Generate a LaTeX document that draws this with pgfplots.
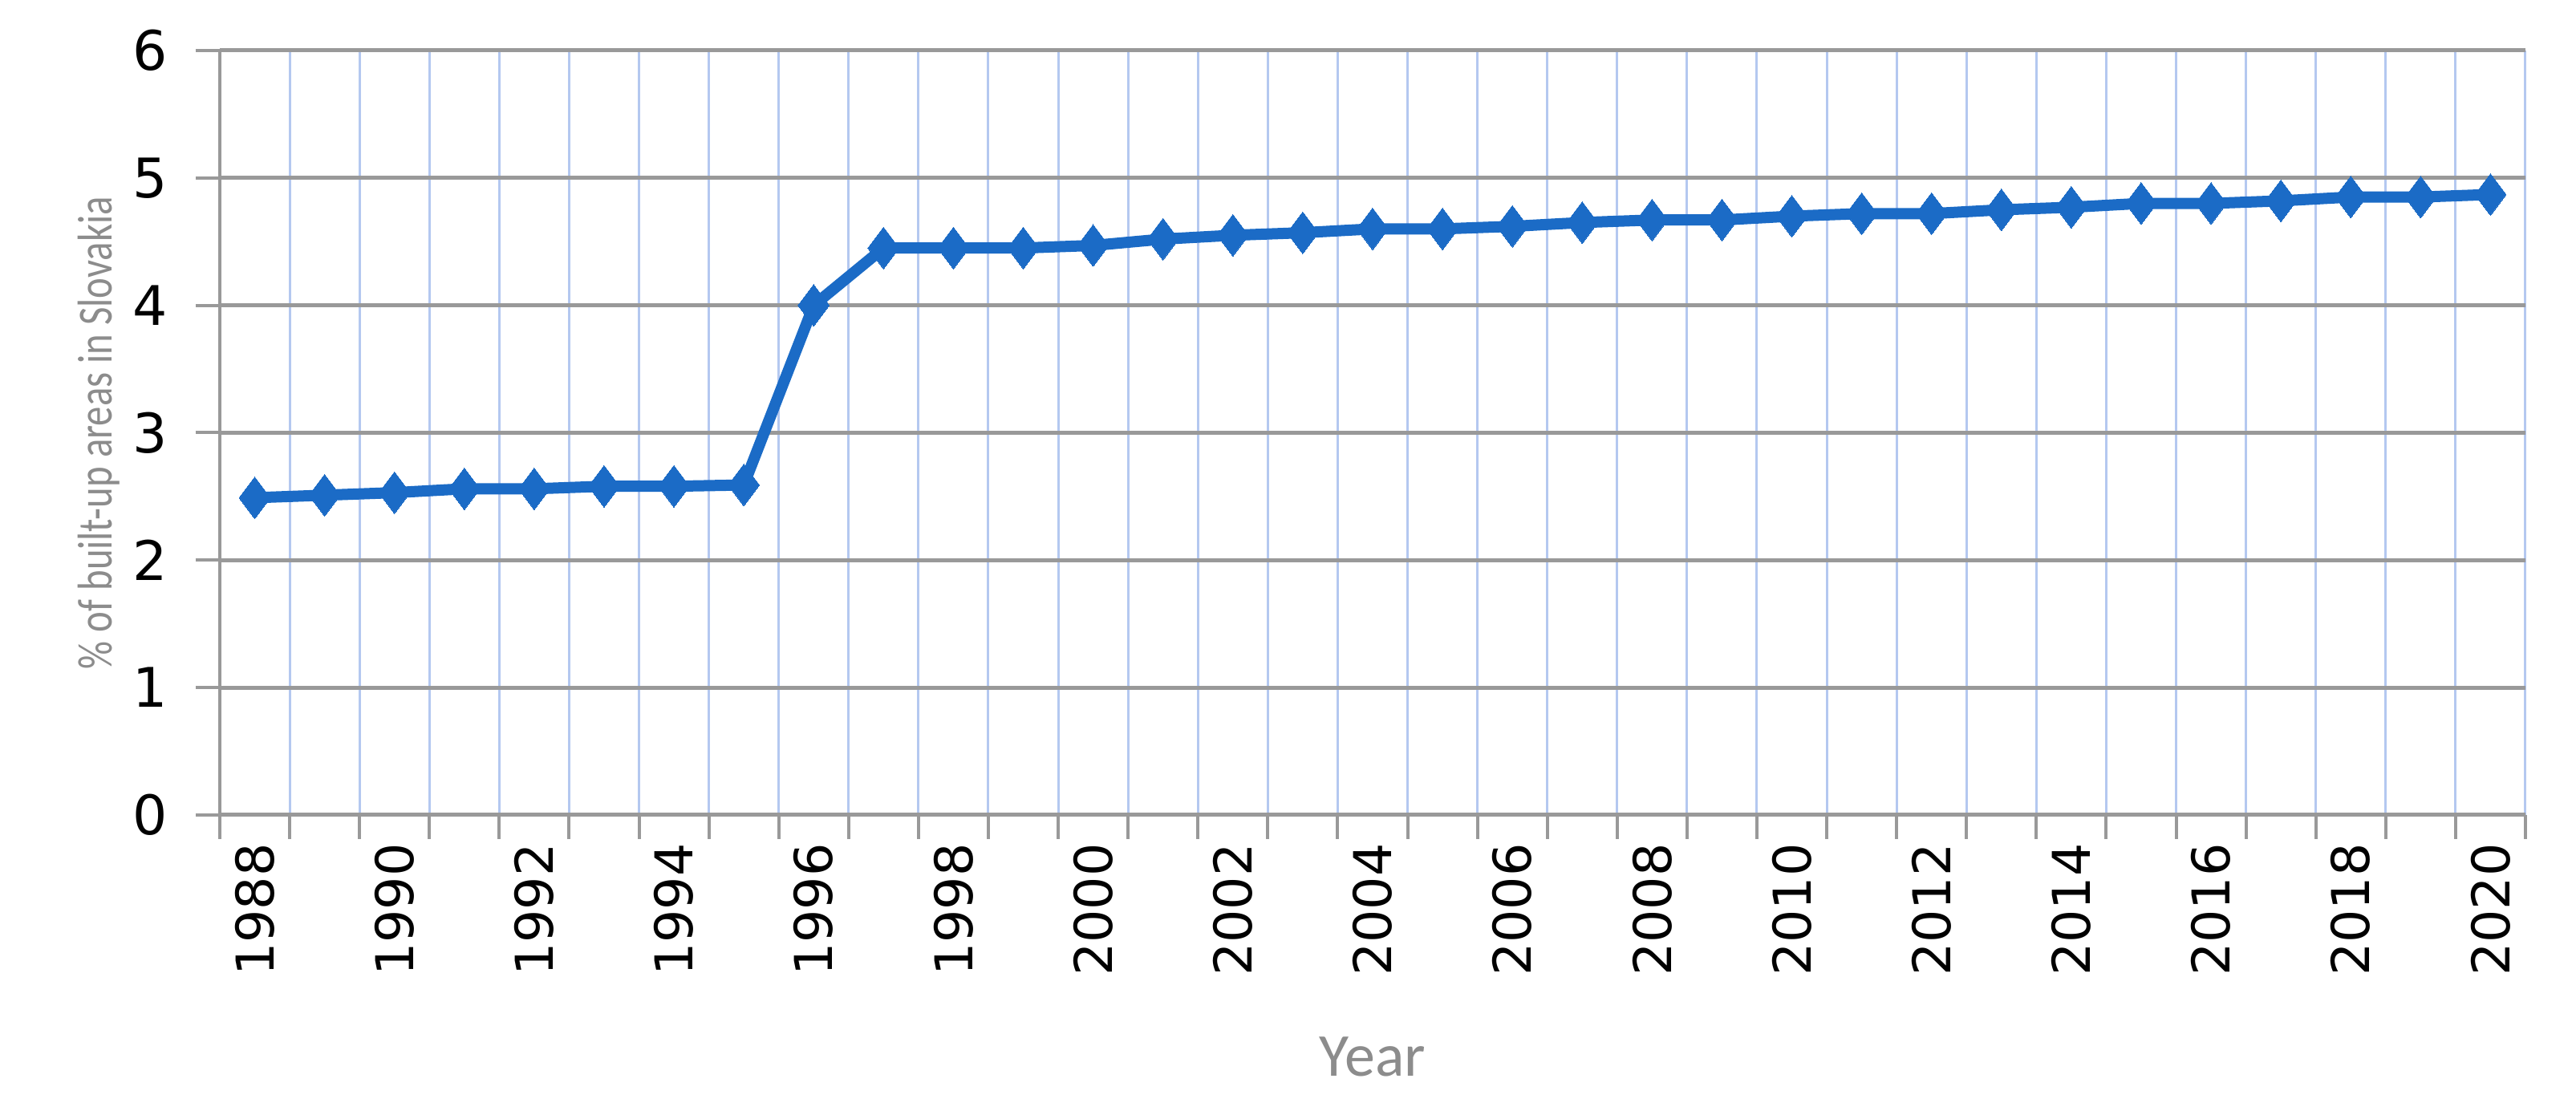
\documentclass[border=0pt]{standalone}
\usepackage{pgfplots}
\pgfplotsset{compat=1.18}
\usepackage{fontspec}
\setmainfont{Carlito}
\newfontfamily\dejavu{DejaVu Sans}
\definecolor{lineblue}{HTML}{1B6BC6}
\definecolor{vgrid}{HTML}{B4C8F0}
\definecolor{hgrid}{HTML}{999999}
\definecolor{labgray}{HTML}{8C8C8C}
\begin{document}
\begin{tikzpicture}
\path[use as bounding box] (-27.4pt,-36.4pt) rectangle (293.7pt,101.6pt);
\begin{axis}[
  scale only axis,
  width=287.4pt, height=95.3pt,
  at={(0pt,0pt)}, anchor=south west,
  xmin=-0.5, xmax=32.5, ymin=0, ymax=6,
  axis lines=left,
  axis line style={-, draw=hgrid, line width=0.45pt},
  tick align=outside,
  major tick length=3pt,
  tick style={draw=hgrid, line width=0.4pt},
  xtick={-0.5,0.5,...,32.5},
  xticklabels={},
  ytick={0,1,...,6},
  xmajorgrids, ymajorgrids,
  x grid style={draw=vgrid, line width=0.3pt},
  y grid style={draw=hgrid, line width=0.5pt},
  /pgf/number format/assume math mode=true,
  yticklabel style={font=\dejavu\fontsize{6.8}{7}\selectfont, xshift=0pt},
  extra x ticks={0,2,...,32},
  extra x tick labels={1988,1990,1992,1994,1996,1998,2000,2002,2004,2006,2008,2010,2012,2014,2016,2018,2020},
  extra x tick style={major tick length=0pt, grid=none,
     tick label style={font=\dejavu\fontsize{6.5}{7}\selectfont, rotate=90, anchor=east}},
  xlabel={Year},
  ylabel={\scalebox{0.8}[1]{\% of built-up areas in Slovakia}},
  every axis x label/.style={at={(axis description cs:0.5,0)}, anchor=center, yshift=-30.1pt, font=\fontsize{7.6}{8}\selectfont, text=labgray},
  every axis y label/.style={at={(axis description cs:0,0.5)}, anchor=center, xshift=-15.1pt, rotate=90, font=\fontsize{6.1}{7}\selectfont, text=labgray},
  clip=false,
]
\addplot[color=lineblue, line width=1.4pt, mark=diamond*, mark size=2.6pt, mark options={fill=lineblue, draw=lineblue, line width=0pt}]
coordinates {
(0,2.49) (1,2.51) (2,2.53) (3,2.56) (4,2.56) (5,2.58) (6,2.58) (7,2.59)
(8,4.00) (9,4.45) (10,4.45) (11,4.45) (12,4.47) (13,4.52) (14,4.55) (15,4.57)
(16,4.60) (17,4.60) (18,4.62) (19,4.65) (20,4.67) (21,4.67) (22,4.70) (23,4.72)
(24,4.72) (25,4.75) (26,4.77) (27,4.80) (28,4.80) (29,4.82) (30,4.85) (31,4.85) (32,4.87)
};
\end{axis}
\end{tikzpicture}
\end{document}
